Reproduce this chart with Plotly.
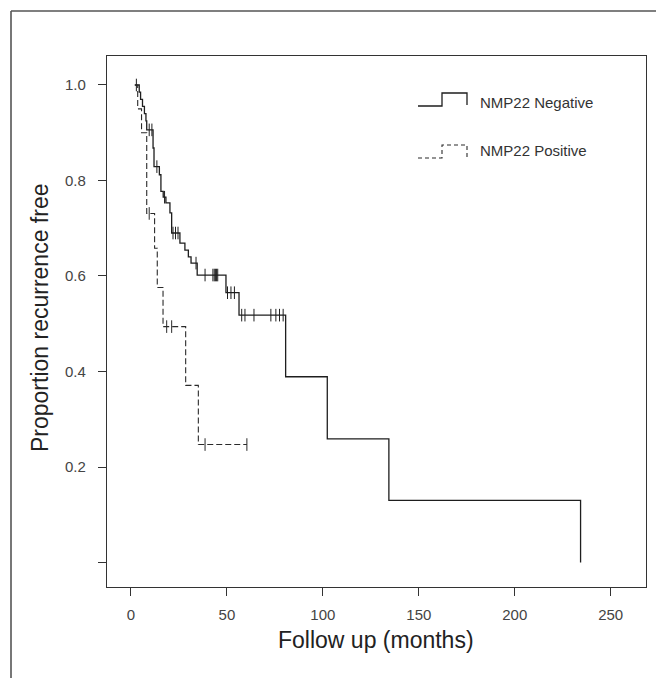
import plotly.graph_objects as go

# ---- Kaplan-Meier data (months, proportion recurrence free) ----
# NMP22 negative: first follow-up time, event times and survival after each event
neg_start = 2.0
neg_event_t = [4.3, 5.0, 6.0, 7.0, 7.8, 8.2, 11.5, 12.0, 14.8, 15.6, 16.8, 18.2,
               20.3, 21.2, 25.5, 28.1, 29.9, 31.3, 34.5, 49.5, 56.3, 80.6,
               102.3, 134.4, 234.3]
neg_event_s = [0.985, 0.970, 0.955, 0.940, 0.925, 0.906, 0.868, 0.829, 0.812,
               0.777, 0.765, 0.753, 0.732, 0.690, 0.669, 0.654, 0.640, 0.627,
               0.602, 0.565, 0.518, 0.389, 0.259, 0.130, 0.0]
neg_censor_t = [2.8, 9.5, 10.9, 13.5, 17.5, 21.9, 23.2, 24.5, 33.9, 38.6,
                42.7, 43.4, 44.0, 44.6, 45.2, 50.3, 52.1, 53.9, 57.7, 59.4,
                64.1, 72.9, 75.5, 77.4, 79.3]

# NMP22 positive
pos_start = 2.0
pos_event_t = [3.5, 5.5, 8.2, 12.3, 13.7, 16.7, 28.5, 35.1]
pos_event_s = [0.950, 0.900, 0.731, 0.658, 0.576, 0.494, 0.371, 0.247]
pos_censor_t = [9.5, 18.6, 21.2, 38.6, 60.4]
pos_end = 60.4

x_ticks = [0, 50, 100, 150, 200, 250]
y_ticks = [0.0, 0.2, 0.4, 0.6, 0.8, 1.0]
y_tick_text = ["", "0.2", "0.4", "0.6", "0.8", "1.0"]

legend_labels = ["NMP22 Negative", "NMP22 Positive"]

FONT = "Liberation Sans, Arial, sans-serif"
W, H = 656, 678
ML, MR, MT, MB = 107, 10, 56, 91
PW, PH = W - ML - MR, H - MT - MB
DASH = "6px,3px"


def px(x, y):
    """Pixel position in the figure -> paper coordinates."""
    return (x - ML) / PW, (H - MB - y) / PH


def step_curve(start, times, surv, end=None):
    xs, ys = [start], [1.0]
    for t, s in zip(times, surv):
        xs.append(t)
        ys.append(s)
    if end is not None:
        xs.append(end)
        ys.append(ys[-1])
    return xs, ys


def level_at(t, times, surv):
    s = 1.0
    for te, se in zip(times, surv):
        if te <= t:
            s = se
    return s


fig = go.Figure()

nx, ny = step_curve(neg_start, neg_event_t, neg_event_s)
fig.add_trace(go.Scatter(x=nx, y=ny, mode="lines",
                         line=dict(shape="hv", color="#1e1e1e", width=1.3),
                         hoverinfo="skip", showlegend=False))
fig.add_trace(go.Scatter(
    x=neg_censor_t,
    y=[level_at(t, neg_event_t, neg_event_s) for t in neg_censor_t],
    mode="markers",
    marker=dict(symbol="line-ns", size=9, line=dict(color="#1e1e1e", width=1)),
    hoverinfo="skip", showlegend=False))

qx, qy = step_curve(pos_start, pos_event_t, pos_event_s, pos_end)
fig.add_trace(go.Scatter(x=qx, y=qy, mode="lines",
                         line=dict(shape="hv", color="#2a2a2a", width=1.1,
                                   dash=DASH),
                         hoverinfo="skip", showlegend=False))
fig.add_trace(go.Scatter(
    x=pos_censor_t,
    y=[level_at(t, pos_event_t, pos_event_s) for t in pos_censor_t],
    mode="markers",
    marker=dict(symbol="line-ns", size=9, line=dict(color="#2a2a2a", width=1)),
    hoverinfo="skip", showlegend=False))

shapes = []
# outer frame (top and left edges)
a = px(11, 11)
b = px(11, H + 20)
c = px(W + 20, 11)
shapes.append(dict(type="line", xref="paper", yref="paper",
                   x0=a[0], y0=a[1], x1=b[0], y1=b[1],
                   line=dict(color="#555555", width=1.6)))
shapes.append(dict(type="line", xref="paper", yref="paper",
                   x0=a[0], y0=a[1], x1=c[0], y1=c[1],
                   line=dict(color="#555555", width=1.6)))


def glyph_path(x0, x1, x2, ylo, yhi, yend):
    p = [px(x0, ylo), px(x1, ylo), px(x1, yhi), px(x2, yhi), px(x2, yend)]
    return "M " + " L ".join(f"{u:.5f},{v:.5f}" for u, v in p)


shapes.append(dict(type="path", xref="paper", yref="paper",
                   path=glyph_path(418, 442, 467, 106, 93, 105),
                   line=dict(color="#1e1e1e", width=1.3)))
shapes.append(dict(type="path", xref="paper", yref="paper",
                   path=glyph_path(418, 442, 467, 158, 145, 157),
                   line=dict(color="#2a2a2a", width=1.1, dash="4px,3px")))

annotations = []
for label, yc in zip(legend_labels, [102, 150]):
    ax_, ay_ = px(478, yc)
    annotations.append(dict(text=label, x=ax_, y=ay_, xref="paper", yref="paper",
                            xanchor="left", yanchor="middle", showarrow=False,
                            font=dict(family=FONT, size=15, color="#333333")))

tx, ty = px(376, 640)
annotations.append(dict(text="Follow up (months)", x=tx, y=ty, xref="paper",
                        yref="paper", xanchor="center", yanchor="middle",
                        showarrow=False,
                        font=dict(family=FONT, size=23, color="#222222")))
tx, ty = px(40, 318)
annotations.append(dict(text="Proportion recurrence free", x=tx, y=ty,
                        xref="paper", yref="paper", xanchor="center",
                        yanchor="middle", textangle=-90, showarrow=False,
                        font=dict(family=FONT, size=23, color="#222222")))

fig.update_layout(
    width=W, height=H,
    margin=dict(l=ML, r=MR, t=MT, b=MB, pad=0),
    paper_bgcolor="white", plot_bgcolor="white",
    shapes=shapes, annotations=annotations,
    showlegend=False,
)
fig.update_xaxes(range=[-12.5, 268.4], tickvals=x_ticks,
                 ticks="outside", ticklen=8, tickwidth=1, tickcolor="#333333",
                 showline=True, mirror=True, linecolor="#333333", linewidth=1.2,
                 showgrid=False, zeroline=False, ticklabelstandoff=6,
                 tickfont=dict(family=FONT, size=15, color="#444444"))
fig.update_yaxes(range=[-0.0513, 1.0607], tickvals=y_ticks, ticktext=y_tick_text,
                 ticks="outside", ticklen=8, tickwidth=1, tickcolor="#333333",
                 showline=True, mirror=True, linecolor="#333333", linewidth=1.2,
                 showgrid=False, zeroline=False, ticklabelstandoff=9,
                 tickfont=dict(family=FONT, size=15, color="#444444"))

fig.write_html("out.html")
